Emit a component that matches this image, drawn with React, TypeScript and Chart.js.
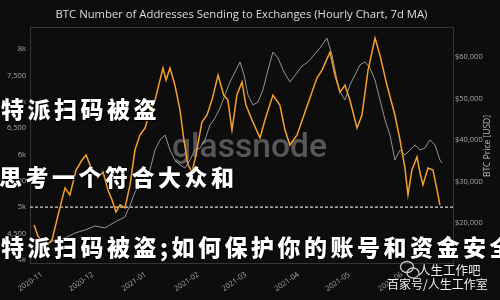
import React, { useEffect, useRef } from "react";
import { Chart, registerables } from "chart.js";

Chart.register(...registerables);

// ---------- data ----------
const chartTitle = "BTC Number of Addresses Sending to Exchanges (Hourly Chart, 7d MA)";
const rightAxisTitle = "BTC Price [USD]";
const watermark = "glassnode";

// x values are days since 2020-11-01
const monthTickDays = [0, 30, 61, 92, 120, 151, 181, 212];
const monthTickLabels = ["2020-11", "2020-12", "2021-01", "2021-02", "2021-03", "2021-04", "2021-05", "2021-06"];

const addrTickValues = [4000, 4500, 5000, 5500, 6000, 6500, 7000, 7500, 8000];
const addrTickLabels = ["4k", "4,500", "5k", "5,500", "6k", "6,500", "7k", "7,500", "8k"];

const priceTickValues = [20000, 30000, 40000, 50000, 60000];
const priceTickLabels = ["$20,000", "$30,000", "$40,000", "$50,000", "$60,000"];

const referenceLevel = 5000;

const addrDays = [
  -4.6, -2.3, 2.4, 6.0, 9.5, 13.6, 16.5, 20.1, 23.6, 26.0, 29.5, 33.0, 36.0, 38.9, 41.3, 43.6, 46.0, 48.9,
  51.9, 54.8, 57.7, 60.7, 63.6, 66.6, 69.5, 71.3, 73.1, 75.4, 78.3, 81.3, 83.6, 86.0, 88.4, 90.7, 94.2,
  97.2, 100.1, 103.7, 107.0, 109.5, 111.9, 114.8, 117.8, 120.1, 123.7, 128.4, 131.3, 136.0, 140.1, 143.1,
  146.0, 150.2, 154.9, 159.0, 161.9, 164.9, 169.6, 172.5, 175.5, 178.4, 181.3, 185.5, 188.4, 192.0, 196.1,
  199.0, 203.1, 207.8, 210.8, 213.7, 215.5, 217.8, 220.8, 222.5, 224.3, 227.3, 230.2, 232.6, 234.3,
];
const addrValues = [
  4660, 4450, 4250, 4380, 4850, 5365, 5230, 5705, 5895, 5990, 5705, 5555, 5668, 5327, 5137, 4910, 5043, 4986,
  5422, 6085, 6370, 6502, 6806, 7033, 7412, 7640, 7412, 7640, 7318, 6844, 6275, 5801, 5668, 5991, 6616,
  6749, 7033, 7507, 7128, 7033, 6464, 7128, 7374, 6938, 6654, 6313, 6654, 7128, 6938, 6464,
  6180, 6370, 6806, 7185, 7450, 7602, 7943, 7507, 7185, 7318, 7033, 6502, 6749, 7602, 8209,
  7886, 7318, 6749, 6275, 5744, 5232, 5706, 5953, 5668, 5422, 5744, 5706, 5327, 5043,
];

const priceDays = [
  -4.6, 1.8, 7.7, 13.6, 19.5, 25.4, 31.3, 37.1, 43.0, 48.9, 51.9, 54.8, 57.7, 60.7, 63.6, 66.6, 69.5, 72.5,
  75.4, 78.3, 81.3, 84.2, 87.2, 90.1, 93.1, 96.0, 98.9, 101.9, 104.8, 107.8, 110.7, 113.7, 116.6, 119.0,
  121.3, 124.3, 127.2, 130.1, 133.1, 136.0, 139.0, 142.5, 146.0, 149.6, 153.1, 156.6, 160.2, 163.7, 167.8,
  170.8, 173.7, 175.5, 178.4, 181.3, 184.3, 187.2, 190.2, 193.1, 196.1, 199.0, 202.0, 204.9, 207.8, 210.8,
  213.7, 216.7, 219.6, 222.5, 225.5, 228.4, 231.4, 234.3, 235.5,
];
const priceValues = [
  13980, 14700, 15900, 16390, 17590, 18310, 19280, 18800, 20240, 21450, 24340, 27470, 29160, 30840, 32770, 37590, 40000, 41205,
  37590, 35180, 33980, 33250, 35180, 37590, 38070, 40000, 43610, 45300, 47710, 50840, 53980, 56390, 58800, 55660,
  50840, 48430, 49160, 52050, 56870, 61200, 59760, 56390, 53980, 55900, 57830, 58800, 60480, 62170, 64580,
  60480, 54460, 51570, 49640, 53250, 55660, 58070, 58800, 57350, 54460, 49640, 44820, 41200, 35180, 37590,
  36390, 37590, 38800, 37590, 38070, 40000, 38800, 35180, 34460,
];

const overlayLine1 = "特派扫码被盗";
const overlayLine2 = "思考一个符合大众和";
const overlayLine3 = "特派扫码被盗;如何保护你的账号和资金安全";
const footerLine1 = "人生工作吧";
const footerLine2 = "百家号/人生工作室";

// ---------- styling ----------
const BG = "#0d0d0d";
const ORANGE = "#f5a12f";
const GREY = "#939393";
const TICK_COLOR = "#a8a8a8";
const TICK_FONT = "'Open Sans', Roboto, sans-serif";

const X_MIN = -7;
const X_MAX = 242;

const decorPlugin = {
  id: "decor",
  beforeDraw(chart: any) {
    const { ctx, width, height } = chart;
    ctx.save();
    ctx.fillStyle = BG;
    ctx.fillRect(0, 0, width, height);
    ctx.restore();
  },
  beforeDatasetsDraw(chart: any) {
    const { ctx, chartArea } = chart;
    ctx.save();
    // plot frame
    ctx.strokeStyle = "#353535";
    ctx.lineWidth = 1;
    ctx.strokeRect(
      Math.round(chartArea.left) + 0.5,
      Math.round(chartArea.top) + 0.5,
      Math.round(chartArea.right - chartArea.left),
      Math.round(chartArea.bottom - chartArea.top)
    );
    // watermark
    ctx.font = "500 30px Roboto";
    const w30 = ctx.measureText(watermark).width;
    const size = (30 * 155) / w30;
    ctx.font = `500 ${size.toFixed(2)}px Roboto`;
    ctx.fillStyle = "#575757";
    ctx.textBaseline = "alphabetic";
    ctx.textAlign = "left";
    ctx.fillText(watermark, 172, 157);
    ctx.restore();
  },
  afterDraw(chart: any) {
    const { ctx, chartArea } = chart;
    ctx.save();
    // title centred over plot area
    ctx.font = "12px 'Open Sans'";
    const tw = ctx.measureText(chartTitle).width;
    const ts = (12 * 372) / tw;
    ctx.font = `${ts.toFixed(2)}px 'Open Sans'`;
    ctx.fillStyle = "#dedede";
    ctx.textAlign = "center";
    ctx.textBaseline = "middle";
    ctx.fillText(chartTitle, (chartArea.left + chartArea.right) / 2, 15);
    // right axis title, reading bottom to top
    ctx.translate(488, 146);
    ctx.rotate(-Math.PI / 2);
    ctx.font = "8.5px 'Open Sans'";
    ctx.fillStyle = "#bdbdbd";
    ctx.fillText(rightAxisTitle, 0, 0);
    ctx.restore();
  },
};

export default function App() {
  const canvasRef = useRef<HTMLCanvasElement | null>(null);

  useEffect(() => {
    document.body.style.margin = "0";
    const canvas = canvasRef.current;
    if (!canvas) return;
    const chart = new Chart(canvas, {
      type: "line",
      data: {
        datasets: [
          {
            label: "Addresses sending to exchanges (7d MA)",
            data: addrDays.map((d, i) => ({ x: d, y: addrValues[i] })),
            yAxisID: "yL",
            borderColor: ORANGE,
            borderWidth: 1.5,
            pointRadius: 0,
            tension: 0,
          },
          {
            label: "Reference level",
            data: [
              { x: X_MIN, y: referenceLevel },
              { x: X_MAX, y: referenceLevel },
            ],
            yAxisID: "yL",
            borderColor: "#d6d6d6",
            borderWidth: 1.2,
            borderDash: [3, 2],
            pointRadius: 0,
          },
          {
            label: "BTC Price",
            data: priceDays.map((d, i) => ({ x: d, y: priceValues[i] })),
            yAxisID: "yR",
            borderColor: GREY,
            borderWidth: 1,
            pointRadius: 0,
            tension: 0,
          },
        ],
      },
      options: {
        animation: false,
        responsive: false,
        maintainAspectRatio: false,
        layout: { padding: { top: 27, left: 0, right: 0, bottom: 0 } },
        plugins: {
          legend: { display: false },
          tooltip: { enabled: false },
          title: { display: false },
        },
        scales: {
          x: {
            type: "linear",
            min: X_MIN,
            max: X_MAX,
            grid: { display: false, drawTicks: false },
            border: { display: false },
            afterBuildTicks: (s: any) => {
              s.ticks = monthTickDays.map((v) => ({ value: v }));
            },
            afterFit: (s: any) => {
              s.height = 37;
            },
            ticks: {
              autoSkip: false,
              maxRotation: 35,
              minRotation: 35,
              padding: 7,
              color: TICK_COLOR,
              font: { size: 7.5, family: TICK_FONT },
              callback: (v: any) => monthTickLabels[monthTickDays.indexOf(Number(v))] ?? "",
            },
          },
          yL: {
            type: "linear",
            position: "left",
            min: 3940,
            max: 8420,
            grid: { display: false, drawTicks: false },
            border: { display: false },
            afterBuildTicks: (s: any) => {
              s.ticks = addrTickValues.map((v) => ({ value: v }));
            },
            afterFit: (s: any) => {
              s.width = 30;
            },
            ticks: {
              padding: 4,
              color: TICK_COLOR,
              font: { size: 7.5, family: TICK_FONT },
              callback: (v: any) => addrTickLabels[addrTickValues.indexOf(Number(v))] ?? "",
            },
          },
          yR: {
            type: "linear",
            position: "right",
            min: 10360,
            max: 67230,
            grid: { display: false, drawTicks: false },
            border: { display: false },
            afterBuildTicks: (s: any) => {
              s.ticks = priceTickValues.map((v) => ({ value: v }));
            },
            afterFit: (s: any) => {
              s.width = 47;
            },
            ticks: {
              padding: 2,
              color: TICK_COLOR,
              font: { size: 7.5, family: TICK_FONT },
              callback: (v: any) => priceTickLabels[priceTickValues.indexOf(Number(v))] ?? "",
            },
          },
        },
      },
      plugins: [decorPlugin],
    } as any);
    return () => chart.destroy();
  }, []);

  const overlayStyle: React.CSSProperties = {
    position: "absolute",
    fontFamily: "'Noto Sans CJK SC', sans-serif",
    fontWeight: 900,
    fontSize: "23px",
    lineHeight: "23px",
    letterSpacing: "3.5px",
    color: "#ffffff",
    whiteSpace: "nowrap",
    textShadow: "0 0 2px #000, 1px 1px 1px #000",
  };

  return (
    <div
      style={{
        position: "fixed",
        left: 0,
        top: 0,
        width: 500,
        height: 300,
        overflow: "hidden",
        background: BG,
      }}
    >
      <canvas ref={canvasRef} width={500} height={300} style={{ display: "block", width: 500, height: 300 }} />
      <div style={{ ...overlayStyle, left: 1, top: 97 }}>{overlayLine1}</div>
      <div style={{ ...overlayStyle, left: -1, top: 165 }}>{overlayLine2}</div>
      <div style={{ ...overlayStyle, left: 1, top: 235 }}>{overlayLine3}</div>
      <svg
        width={22}
        height={22}
        viewBox="0 0 22 22"
        style={{ position: "absolute", left: 399, top: 259 }}
      >
        <ellipse cx={8} cy={8} rx={6.5} ry={5.5} fill="none" stroke="#cfcfcf" strokeWidth={1.3} />
        <ellipse cx={14} cy={14} rx={6} ry={5} fill="none" stroke="#cfcfcf" strokeWidth={1.3} />
      </svg>
      <div
        style={{
          position: "absolute",
          left: 418,
          top: 263,
          fontFamily: "'Noto Sans CJK SC', sans-serif",
          fontSize: "12.5px",
          lineHeight: "14px",
          color: "#eeeeee",
          whiteSpace: "nowrap",
          textShadow: "0 0 2px #000",
        }}
      >
        {footerLine1}
      </div>
      <div
        style={{
          position: "absolute",
          left: 387,
          top: 277,
          fontFamily: "'Noto Sans CJK SC', sans-serif",
          fontSize: "12px",
          lineHeight: "14px",
          color: "#f2f2f2",
          whiteSpace: "nowrap",
          textShadow: "0 0 2px #000",
        }}
      >
        {footerLine2}
      </div>
    </div>
  );
}
